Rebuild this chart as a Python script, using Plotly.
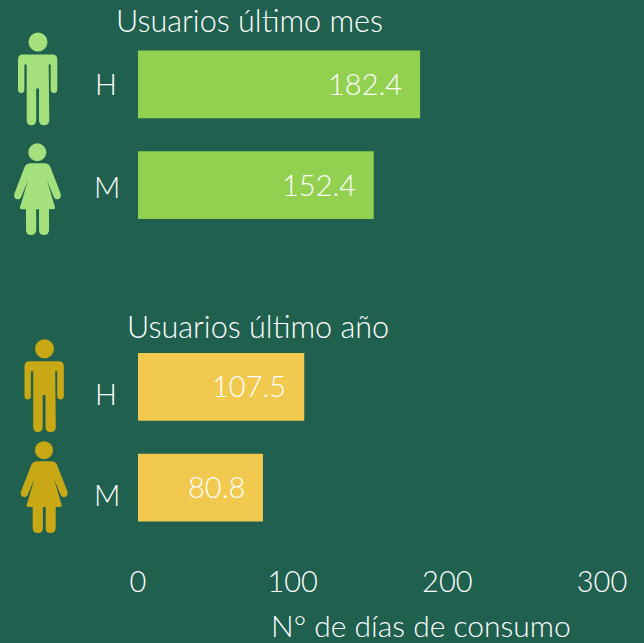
import re
import plotly.graph_objects as go

W, H = 644, 643
FONT = "Lato"
BG = "#1F604E"

# Data
bar_labels = ["H", "M", "H", "M"]
slots = [0, 1, 3, 4]
values = [182.4, 152.4, 107.5, 80.8]
value_text = ["182.4", "152.4", "107.5", "80.8"]
bar_colors = ["#92D050", "#92D050", "#F2C94F", "#F2C94F"]
x_ticks = [0, 100, 200, 300]
x_title = "N° de días de consumo"
group_titles = ["Usuarios último mes", "Usuarios último año"]

# Layout (pixels)
L, R, T, B = 138, 602, 33.5, 538.5


def px(x):
    return (x - L) / (R - L)


def py(y):
    return 1 - (y - T) / (B - T)


def to_paper(path, dx, dy):
    toks = re.findall(r"[MLQZ]|-?[\d.]+", path)
    out, pair = [], []
    for t in toks:
        if t in "MLQZ":
            out.append(t)
        else:
            pair.append(float(t))
            if len(pair) == 2:
                out.append(f"{px(pair[0] + dx):.5f},{py(pair[1] + dy):.5f}")
                pair = []
    return " ".join(out)


MAN = ("M 23,54 L 52,54 Q 57.3,54 57.3,59 L 57.3,89 Q 57.3,92.5 54,92.5 Q 50.7,92.5 50.7,89 "
       "L 50.7,64 L 48.7,64 L 49.3,120 Q 49.3,125 44,125 Q 39,125 39,120 L 39,88 L 36.2,88 "
       "L 36.2,120 Q 36.2,125 31.5,125 Q 26.7,125 26.7,120 L 26.7,64 L 24.4,64 L 24.4,89 "
       "Q 24.4,92.5 21.3,92.5 Q 18,92.5 18,89 L 18,59 Q 18,54 23,54 Z")
WOMAN = ("M 31,163 L 44,163 Q 49,163 50.5,167 L 60.5,193 Q 62,198 58,199 Q 55,200 53.5,196 "
         "L 47,180 L 55,207 Q 55.5,209 53,209 L 49,209 L 49,230 Q 49,235 43.7,235 Q 39,235 39,230 "
         "L 39,209 L 36.2,209 L 36.2,230 Q 36.2,235 31.2,235 Q 26,235 26,230 L 26,209 L 22,209 "
         "Q 19.5,209 20,207 L 28,180 L 21.5,196 Q 20,200 17,199 Q 13,198 14.5,193 L 24.5,167 "
         "Q 26,163 31,163 Z")

icons = [
    (MAN, 38, 41.5, 9.5, 0, 0, "#A4E17C"),
    (WOMAN, 37.3, 152, 9, 0, 0, "#A4E17C"),
    (MAN, 38, 41.5, 9.5, 6.5, 307.3, "#C9A816"),
    (WOMAN, 37.3, 152, 9, 6.7, 298.5, "#C9A816"),
]

shapes = []
for path, hx, hy, r, dx, dy, col in icons:
    shapes.append(dict(type="path", xref="paper", yref="paper", path=to_paper(path, dx, dy),
                       fillcolor=col, line=dict(width=0), layer="above"))
    shapes.append(dict(type="circle", xref="paper", yref="paper",
                       x0=px(hx + dx - r), x1=px(hx + dx + r),
                       y0=py(hy + dy + r), y1=py(hy + dy - r),
                       fillcolor=col, line=dict(width=0), layer="above"))

fig = go.Figure(go.Bar(x=values, y=slots, orientation="h", width=0.673,
                       marker=dict(color=bar_colors, line=dict(width=0)),
                       hoverinfo="x+y"))

TXT = dict(family=FONT, size=29, color="white", weight=300)
TXT_T = dict(family=FONT, size=30.6, color="white", weight=300)
TXT_X = dict(family=FONT, size=30, color="white", weight=300)

ann = []
for v, s, t in zip(values, slots, value_text):
    ann.append(dict(x=v, y=s, xref="x", yref="y", text=t, showarrow=False, xanchor="right",
                    yanchor="middle", xshift=-16, yshift=1, font=TXT))

label_px = [(105.5, 83.5), (107, 186.5), (105.5, 393.5), (107, 494.5)]
for t, (lx, ly) in zip(bar_labels, label_px):
    ann.append(dict(x=px(lx), y=py(ly), xref="paper", yref="paper", text=t, showarrow=False,
                    xanchor="center", yanchor="middle", font=TXT))

title_px = [(249.5, 19.5), (258, 327)]
for t, (lx, ly) in zip(group_titles, title_px):
    ann.append(dict(x=px(lx), y=py(ly), xref="paper", yref="paper", text=t, showarrow=False,
                    xanchor="center", yanchor="middle", font=TXT_T))

ann.append(dict(x=px(420.5), y=py(626), xref="paper", yref="paper", text=x_title, showarrow=False,
                xanchor="center", yanchor="middle", font=TXT_X))

fig.update_layout(
    width=W, height=H, autosize=False,
    paper_bgcolor=BG, plot_bgcolor=BG,
    margin=dict(l=L, r=W - R, t=T, b=H - B, pad=0),
    showlegend=False,
    font=TXT,
    xaxis=dict(range=[0, 300], tickvals=x_ticks, showgrid=False, zeroline=False, showline=False,
               ticks="", ticklabelstandoff=24, tickfont=TXT),
    yaxis=dict(range=[4.5, -0.5], showgrid=False, zeroline=False, showline=False, ticks="",
               showticklabels=False),
    annotations=ann,
    shapes=shapes,
)
fig.write_html("out.html", config=dict(displayModeBar=False),
               post_script="document.body.style.margin='0';document.documentElement.style.overflow='hidden';"
                           "document.body.style.background='" + BG + "';")
